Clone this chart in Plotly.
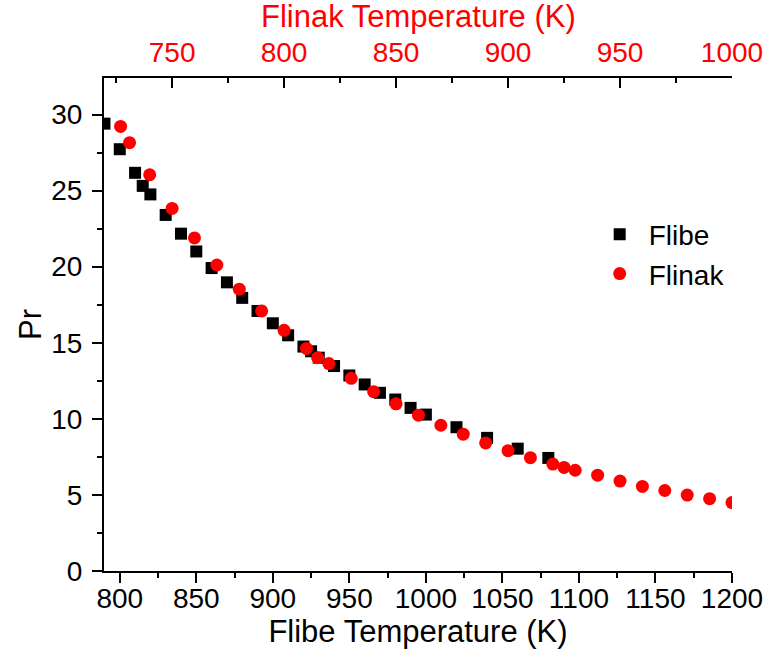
import plotly.graph_objects as go

# Flibe (bottom axis)
flibe_T = [790, 800, 810, 815, 820, 830, 840, 850, 860, 870, 880, 890, 900, 910,
           920, 925, 930, 940, 950, 960, 970, 980, 990, 1000, 1020, 1040, 1060, 1080]
flibe_Pr = [29.4, 27.72, 26.17, 25.31, 24.75, 23.4, 22.17, 21.0, 19.91, 18.97, 17.95,
            17.09, 16.28, 15.49, 14.75, 14.44, 14.02, 13.47, 12.85, 12.26, 11.71, 11.27,
            10.72, 10.28, 9.45, 8.75, 8.04, 7.43]

# Flinak (top axis)
flinak_T = [727, 731, 740, 750, 760, 770, 780, 790, 800, 810, 815, 820, 830, 840, 850,
            860, 870, 880, 890, 900, 910, 920, 925, 930, 940, 950, 960, 970, 980, 990, 1000]
flinak_Pr = [29.22, 28.15, 26.04, 23.83, 21.89, 20.11, 18.52, 17.09, 15.82, 14.63, 14.02,
             13.63, 12.66, 11.78, 10.99, 10.24, 9.58, 8.99, 8.42, 7.91, 7.45, 7.03, 6.81,
             6.62, 6.3, 5.91, 5.56, 5.29, 4.99, 4.75, 4.5]

FONT = "Arial, Liberation Sans, sans-serif"
PLOT_TOP, PLOT_BOTTOM = 78, 571

fig = go.Figure()
fig.add_trace(go.Scatter(x=flibe_T, y=flibe_Pr, mode="markers", name="Flibe",
                         marker=dict(symbol="square", size=12, color="black"),
                         xaxis="x", yaxis="y"))
fig.add_trace(go.Scatter(x=flinak_T, y=flinak_Pr, mode="markers", name="Flinak",
                         marker=dict(symbol="circle", size=13, color="#ff0000"),
                         xaxis="x2", yaxis="y"))

fig.update_layout(
    width=767, height=655,
    margin=dict(l=104, r=35, t=PLOT_TOP, b=655 - PLOT_BOTTOM, autoexpand=False),
    paper_bgcolor="white", plot_bgcolor="white",
    font=dict(family=FONT, color="black", size=28),
    showlegend=True,
    legend=dict(x=0.775, y=0.643, xanchor="left", yanchor="middle",
                bgcolor="rgba(0,0,0,0)", font=dict(size=28), itemwidth=48,
                tracegroupgap=0),
    xaxis=dict(range=[789.7, 1200], showline=True, linecolor="black", linewidth=2,
               ticks="outside", ticklen=10, tickwidth=2, tickcolor="black",
               dtick=50, tick0=800, showgrid=False, zeroline=False, automargin=False,
               tickfont=dict(size=28), ticklabelstandoff=-9,
               minor=dict(dtick=25, tick0=800, ticks="outside", ticklen=5,
                          tickwidth=2, tickcolor="black", showgrid=False),
               title=dict(text="Flibe Temperature (K)", font=dict(size=31), standoff=7)),
    xaxis2=dict(range=[719.6, 1000], overlaying="x", side="top", anchor="y",
                showline=True, linecolor="black", linewidth=2, automargin=False,
                ticks="inside", ticklen=10, tickwidth=2, tickcolor="black",
                dtick=50, tick0=750, showgrid=False, zeroline=False,
                tickfont=dict(size=28, color="#ff0000"), ticklabelstandoff=3,
                minor=dict(dtick=25, tick0=750, ticks="inside", ticklen=5,
                           tickwidth=2, tickcolor="black", showgrid=False)),
    yaxis=dict(range=[0, 32.4], showline=True, linecolor="black", linewidth=2,
               ticks="outside", ticklen=10, tickwidth=2, tickcolor="black",
               dtick=5, tick0=0, showgrid=False, zeroline=False, automargin=False,
               tickfont=dict(size=28), ticklabelstandoff=4,
               minor=dict(dtick=2.5, tick0=0, ticks="outside", ticklen=5,
                          tickwidth=2, tickcolor="black", showgrid=False),
               title=dict(text="Pr", font=dict(size=31), standoff=0)),
    annotations=[dict(text="Flinak Temperature (K)", xref="paper", yref="paper",
                      x=0.5, y=1 + (PLOT_TOP - 17) / (PLOT_BOTTOM - PLOT_TOP),
                      xanchor="center", yanchor="middle", showarrow=False,
                      font=dict(size=31, color="#ff0000"))],
)

fig.write_html("out.html", config={"displayModeBar": False},
               post_script="document.body.style.margin='0px';")
